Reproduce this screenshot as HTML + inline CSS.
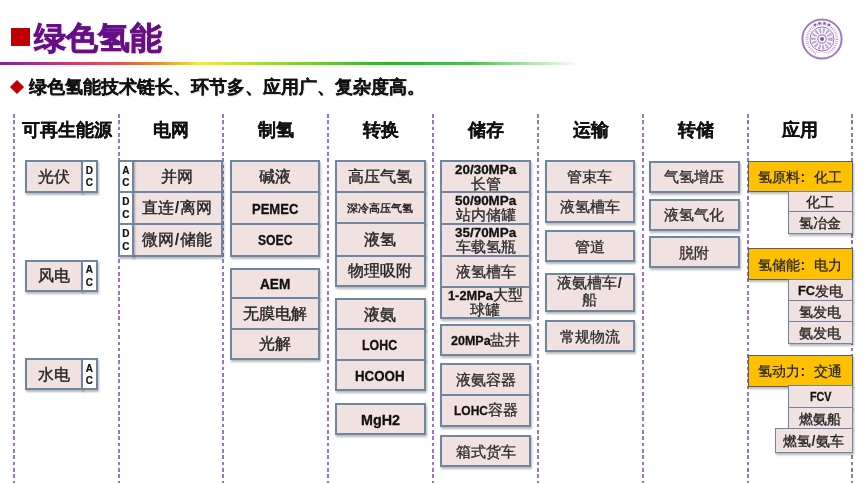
<!DOCTYPE html>
<html><head><meta charset="utf-8">
<style>
html,body{margin:0;padding:0;}
body{width:865px;height:484px;position:relative;overflow:hidden;background:#fff;font-family:"Liberation Sans",sans-serif;}
.sq{position:absolute;left:11px;top:27.5px;width:19px;height:18.5px;background:#c00000;}
.title{position:absolute;left:34px;top:15.5px;font-size:32px;font-weight:900;color:#65108a;-webkit-text-stroke:0.7px #65108a;line-height:44px;white-space:nowrap;text-shadow:1px 1px 2px rgba(240,180,160,0.6);}
.grad{position:absolute;left:0;top:61.5px;width:600px;height:3px;background:linear-gradient(to right,#8020b0 0px,#e0307a 70px,#ee5040 120px,#f09020 160px,#f4f020 200px,#a8e020 260px,#18c018 390px,#40c840 470px,rgba(255,255,255,0) 580px);}
.dia{position:absolute;left:12px;top:81.5px;width:10px;height:10px;background:#c00000;transform:rotate(45deg);}
.sub{position:absolute;left:28.5px;top:75px;font-size:18px;font-weight:900;color:#111;-webkit-text-stroke:0.15px #111;line-height:24px;white-space:nowrap;text-shadow:1px 1px 1px rgba(0,0,0,0.15);}
.dl{position:absolute;top:113.5px;height:369px;width:2px;background:repeating-linear-gradient(to bottom,#9c76b8 0px,#9c76b8 3.6px,transparent 3.6px,transparent 6.32px);}
.hd{position:absolute;top:117px;width:120px;text-align:center;font-size:18px;font-weight:bold;color:#111;-webkit-text-stroke:0.2px #111;line-height:26px;white-space:nowrap;}
.c{position:absolute;box-sizing:border-box;border:2px solid #70859f;background:#f2e1e1;box-shadow:1px 1.5px 2px rgba(0,0,0,0.28);display:flex;align-items:center;justify-content:center;padding-top:1px;color:#262626;white-space:nowrap;overflow:visible;}
.c.w{background:#fff;}
.c.sm{border-width:1.6px;}
.c.o{background:#ffc000;border:1.5px solid #4f5f80;}
.t{font-size:16px;line-height:18px;-webkit-text-stroke:0.4px #262626;}
.t.m,.t2.m{font-size:14.5px;-webkit-text-stroke:0.3px #2c2c2c;color:#2c2c2c;}
.t.s{font-size:11px;font-weight:bold;-webkit-text-stroke:0;}
.ts{font-size:14px;line-height:18px;-webkit-text-stroke:0.35px #262626;}
.to{font-size:14.2px;line-height:18px;-webkit-text-stroke:0.25px #262626;position:relative;left:-0.5px;}
.colon{display:inline-block;width:14.5px;text-align:left;padding-left:1px;box-sizing:border-box;font-weight:bold;font-size:14px;-webkit-text-stroke:0;}
.sl{font-family:"Liberation Sans",sans-serif;font-weight:bold;-webkit-text-stroke:0;margin:0 1px;}
.lw{display:inline-block;position:relative;white-space:nowrap;font-weight:bold;line-height:18px;color:#111;-webkit-text-stroke:0.3px #111;}
.li{display:inline-block;transform-origin:0 50%;}
.ac{font-size:10px;font-weight:bold;line-height:12.5px;padding-top:1px;-webkit-text-stroke:0.2px #111;text-align:center;color:#111;}
.two{display:flex;flex-direction:column;align-items:center;line-height:15.5px;}
.ln1{display:block;height:15.5px;position:relative;top:-1px;}
.ln2{display:block;height:15.5px;}
.t2{font-size:14.5px;-webkit-text-stroke:0.3px #2c2c2c;color:#2c2c2c;}
.logo{position:absolute;left:800px;top:17px;}
.wrap{position:absolute;left:0;top:0;width:865px;height:484px;filter:blur(0.35px);}
</style></head><body>
<div class="wrap">
<div class="sq"></div>
<div class="title">绿色氢能</div>
<div class="grad"></div>
<div class="dia"></div>
<div class="sub">绿色氢能技术链长、环节多、应用广、复杂度高。</div>
<svg class="logo" width="44" height="44" viewBox="0 0 44 44">
<circle cx="22" cy="22" r="19.6" fill="#fdfbfe" stroke="#9c7cbc" stroke-width="2"/>
<circle cx="22" cy="22" r="15" fill="none" stroke="#b49ccc" stroke-width="2.6" stroke-dasharray="0.8 1.3"/>
<circle cx="22" cy="22" r="12" fill="none" stroke="#9878b8" stroke-width="1"/>
<circle cx="22" cy="22" r="8.3" fill="none" stroke="#bca6d2" stroke-width="5" stroke-dasharray="2 1.6"/>
<circle cx="22" cy="22" r="4.2" fill="#fff" stroke="#a283c0" stroke-width="1.2"/>
<circle cx="22" cy="22" r="2" fill="#7e50a4"/>
<rect x="17" y="36.2" width="10" height="2.4" fill="#fff"/>
<g fill="#8a60ae"><circle cx="15" cy="7.8" r="1.4"/><circle cx="19.5" cy="6.4" r="1.4"/><circle cx="24.5" cy="6.4" r="1.4"/><circle cx="29" cy="7.8" r="1.4"/></g>
</svg>
<div class="dl" style="left:13.4px"></div>
<div class="dl" style="left:117.9px"></div>
<div class="dl" style="left:222.4px"></div>
<div class="dl" style="left:327.4px"></div>
<div class="dl" style="left:432.4px"></div>
<div class="dl" style="left:537.4px"></div>
<div class="dl" style="left:641.9px"></div>
<div class="dl" style="left:746.9px"></div>
<div class="dl" style="left:851.4px"></div>
<div class="hd" style="left:6.75px">可再生能源</div>
<div class="hd" style="left:111.25px">电网</div>
<div class="hd" style="left:216.0px">制氢</div>
<div class="hd" style="left:321.0px">转换</div>
<div class="hd" style="left:426.0px">储存</div>
<div class="hd" style="left:530.75px">运输</div>
<div class="hd" style="left:635.5px">转储</div>
<div class="hd" style="left:740.25px">应用</div>
<div class="c" style="left:25px;top:160px;width:57.5px;height:32.5px;"><span class="t">光伏</span></div>
<div class="c w" style="left:80.5px;top:160px;width:17.5px;height:32.5px;"><span class="ac">D<br>C</span></div>
<div class="c" style="left:25px;top:260px;width:57.5px;height:31.5px;"><span class="t">风电</span></div>
<div class="c w" style="left:80.5px;top:260px;width:17.5px;height:31.5px;"><span class="ac">A<br>C</span></div>
<div class="c" style="left:25px;top:358px;width:57.5px;height:32px;"><span class="t">水电</span></div>
<div class="c w" style="left:80.5px;top:358px;width:17.5px;height:32px;"><span class="ac">A<br>C</span></div>
<div class="c" style="left:131.5px;top:160px;width:91.19999999999999px;height:32.5px;"><span class="t">并网</span></div>
<div class="c w" style="left:118px;top:160px;width:15.5px;height:32.5px;"><span class="ac">A<br>C</span></div>
<div class="c" style="left:131.5px;top:190.5px;width:91.19999999999999px;height:34.5px;"><span class="t">直连<b class="sl">/</b>离网</span></div>
<div class="c w" style="left:118px;top:190.5px;width:15.5px;height:34.5px;"><span class="ac">D<br>C</span></div>
<div class="c" style="left:131.5px;top:223px;width:91.19999999999999px;height:33.5px;"><span class="t">微网<b class="sl">/</b>储能</span></div>
<div class="c w" style="left:118px;top:223px;width:15.5px;height:33.5px;"><span class="ac">D<br>C</span></div>
<div class="c" style="left:230px;top:160px;width:90px;height:33px;"><span class="t">碱液</span></div>
<div class="c" style="left:230px;top:191px;width:90px;height:34px;"><span class="lw" style="width:46.3px;font-size:14.5px;top:0px"><span class="li" style="transform:scaleX(0.898)">PEMEC</span></span></div>
<div class="c" style="left:230px;top:223px;width:90px;height:33.5px;"><span class="lw" style="width:34.5px;font-size:14.5px;top:0px"><span class="li" style="transform:scaleX(0.840)">SOEC</span></span></div>
<div class="c" style="left:230px;top:268px;width:90px;height:31px;"><span class="lw" style="width:30.4px;font-size:14.5px;top:0px"><span class="li" style="transform:scaleX(0.943)">AEM</span></span></div>
<div class="c" style="left:230px;top:297px;width:90px;height:32.5px;"><span class="t">无膜电解</span></div>
<div class="c" style="left:230px;top:327.5px;width:90px;height:32.5px;"><span class="t">光解</span></div>
<div class="c" style="left:334.5px;top:160px;width:91.0px;height:33px;"><span class="t">高压气氢</span></div>
<div class="c" style="left:334.5px;top:191px;width:91.0px;height:33px;"><span class="t s">深冷高压气氢</span></div>
<div class="c" style="left:334.5px;top:222px;width:91.0px;height:34.5px;"><span class="t">液氢</span></div>
<div class="c" style="left:334.5px;top:254.5px;width:91.0px;height:32.5px;"><span class="t">物理吸附</span></div>
<div class="c" style="left:334.5px;top:298px;width:91.0px;height:32px;"><span class="t">液氨</span></div>
<div class="c" style="left:334.5px;top:328px;width:91.0px;height:33px;"><span class="lw" style="width:35.1px;font-size:14.5px;top:0px"><span class="li" style="transform:scaleX(0.854)">LOHC</span></span></div>
<div class="c" style="left:334.5px;top:359px;width:91.0px;height:32px;"><span class="lw" style="width:49.6px;font-size:14.5px;top:0px"><span class="li" style="transform:scaleX(0.919)">HCOOH</span></span></div>
<div class="c" style="left:334.5px;top:403px;width:91.0px;height:32px;"><span class="lw" style="width:38.9px;font-size:14.5px;top:0px"><span class="li" style="transform:scaleX(0.986)">MgH2</span></span></div>
<div class="c" style="left:440px;top:160px;width:91px;height:33px;"><span class="two"><span class="ln1"><span class="lw" style="width:61.2px;font-size:13.5px;top:0px"><span class="li" style="transform:scaleX(0.995)">20/30MPa</span></span></span><span class="ln2 t2">长管</span></span></div>
<div class="c" style="left:440px;top:191px;width:91px;height:33.5px;"><span class="two"><span class="ln1"><span class="lw" style="width:61.2px;font-size:13.5px;top:0px"><span class="li" style="transform:scaleX(0.995)">50/90MPa</span></span></span><span class="ln2 t2">站内储罐</span></span></div>
<div class="c" style="left:440px;top:222.5px;width:91px;height:34.0px;"><span class="two"><span class="ln1"><span class="lw" style="width:61.2px;font-size:13.5px;top:0px"><span class="li" style="transform:scaleX(0.995)">35/70MPa</span></span></span><span class="ln2 t2">车载氢瓶</span></span></div>
<div class="c" style="left:440px;top:254.5px;width:91px;height:33.5px;"><span class="t m">液氢槽车</span></div>
<div class="c" style="left:440px;top:286px;width:91px;height:33px;"><span class="two"><span class="ln1"><span class="lw" style="width:44.8px;font-size:13.5px;top:0px"><span class="li" style="transform:scaleX(0.948)">1-2MPa</span></span><span class="t2">大型</span></span><span class="ln2 t2">球罐</span></span></div>
<div class="c" style="left:440px;top:324px;width:91px;height:32px;"><span class="lw" style="width:39.7px;font-size:13.5px;top:0px"><span class="li" style="transform:scaleX(0.928)">20MPa</span></span><span class="t2">盐井</span></div>
<div class="c" style="left:440px;top:363px;width:91px;height:32.5px;"><span class="t m">液氨容器</span></div>
<div class="c" style="left:440px;top:393.5px;width:91px;height:33.0px;"><span class="lw" style="width:34.0px;font-size:13.5px;top:0px"><span class="li" style="transform:scaleX(0.889)">LOHC</span></span><span class="t2">容器</span></div>
<div class="c" style="left:440px;top:435px;width:91px;height:32px;"><span class="t m">箱式货车</span></div>
<div class="c" style="left:545px;top:160px;width:89.5px;height:32.5px;"><span class="t m">管束车</span></div>
<div class="c" style="left:545px;top:190.5px;width:89.5px;height:32.5px;"><span class="t m">液氢槽车</span></div>
<div class="c" style="left:545px;top:230px;width:89.5px;height:32px;"><span class="t m">管道</span></div>
<div class="c" style="left:545px;top:273px;width:89.5px;height:38.5px;"><span class="two"><span class="ln1 t2 m">液氨槽车<b class="sl">/</b></span><span class="ln2 t2 m">船</span></span></div>
<div class="c" style="left:545px;top:320px;width:89.5px;height:32px;"><span class="t m">常规物流</span></div>
<div class="c" style="left:649px;top:160.5px;width:90.5px;height:32.0px;"><span class="t m">气氢增压</span></div>
<div class="c" style="left:649px;top:198.5px;width:90.5px;height:32.0px;"><span class="t m">液氢气化</span></div>
<div class="c" style="left:649px;top:236px;width:90.5px;height:32px;"><span class="t m">脱附</span></div>
<div class="c o" style="left:748px;top:161px;width:104.5px;height:31px;"><span class="to">氢原料<span class="colon">:</span>化工</span></div>
<div class="c sm" style="left:787.5px;top:190.5px;width:65.0px;height:22.5px;"><span class="ts">化工</span></div>
<div class="c sm" style="left:787.5px;top:211px;width:65.0px;height:23px;"><span class="ts">氢冶金</span></div>
<div class="c o" style="left:748px;top:248px;width:104.5px;height:32px;"><span class="to">氢储能<span class="colon">:</span>电力</span></div>
<div class="c sm" style="left:787.5px;top:279px;width:65.0px;height:22.5px;"><span class="lw" style="width:17.0px;font-size:13.5px;top:0px"><span class="li" style="transform:scaleX(0.945)">FC</span></span><span class="ts">发电</span></div>
<div class="c sm" style="left:787.5px;top:299.5px;width:65.0px;height:23.5px;"><span class="ts">氢发电</span></div>
<div class="c sm" style="left:787.5px;top:321px;width:65.0px;height:23px;"><span class="ts">氨发电</span></div>
<div class="c o" style="left:748px;top:355px;width:104.5px;height:31.5px;"><span class="to">氢动力<span class="colon">:</span>交通</span></div>
<div class="c sm" style="left:788px;top:385px;width:64.5px;height:23.5px;"><span class="lw" style="width:21.5px;font-size:13.5px;top:0px"><span class="li" style="transform:scaleX(0.796)">FCV</span></span></div>
<div class="c sm" style="left:788px;top:406.5px;width:64.5px;height:23.0px;"><span class="ts">燃氨船</span></div>
<div class="c sm" style="left:774.5px;top:427.5px;width:78.0px;height:25.0px;"><span class="ts">燃氢<b class="sl">/</b>氨车</span></div>

</div>
</body></html>
